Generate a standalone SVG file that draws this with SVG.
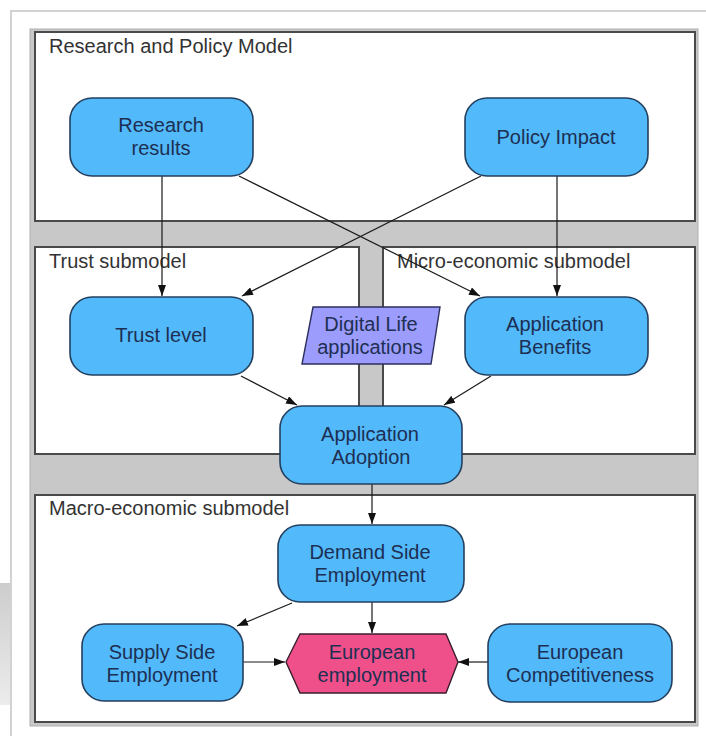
<svg xmlns="http://www.w3.org/2000/svg" width="706" height="736" viewBox="0 0 706 736">
  <defs>
    <marker id="arr" markerUnits="userSpaceOnUse" markerWidth="11" markerHeight="8" refX="11" refY="4" orient="auto">
      <path d="M0,0 L11,4 L0,8 z" fill="#111"/>
    </marker>
    <linearGradient id="shade" x1="0" y1="0" x2="0" y2="1">
      <stop offset="0" stop-color="#cdcdcd"/>
      <stop offset="1" stop-color="#ececec"/>
    </linearGradient>
    <style>
      .panel { fill: #ffffff; stroke: #4a4a4a; stroke-width: 2; }
      .ptitle { font-family: "Liberation Sans", Arial, sans-serif; font-size: 20px; fill: #333333; }
      .box { fill: #52b9fb; stroke: #24405e; stroke-width: 1.6; }
      .lbl { font-family: "Liberation Sans", Arial, sans-serif; font-size: 20px; fill: #1d2f52; text-anchor: middle; }
      .conn { stroke: #1a1a1a; stroke-width: 1.2; fill: none; marker-end: url(#arr); }
    </style>
  </defs>

  <!-- card background -->
  <rect x="0" y="0" width="706" height="736" fill="#ffffff"/>
  <rect x="0" y="583" width="30" height="122" fill="url(#shade)"/>
  <rect x="11" y="11" width="700" height="730" fill="#ffffff" stroke="#d2d2d2" stroke-width="2"/>

  <!-- gray frame -->
  <rect x="30" y="29" width="668" height="697" fill="#c8c8c8" stroke="#b0b0b0" stroke-width="1"/>

  <!-- panels -->
  <g id="panel-research-policy">
    <rect class="panel" x="35" y="32" width="660" height="189"/>
    <text class="ptitle" x="49" y="53">Research and Policy Model</text>
  </g>
  <g id="panel-trust">
    <rect class="panel" x="35" y="247" width="324" height="207"/>
    <text class="ptitle" x="49" y="268">Trust submodel</text>
  </g>
  <g id="panel-micro">
    <rect class="panel" x="383" y="247" width="312" height="207"/>
    <text class="ptitle" x="397" y="268">Micro-economic submodel</text>
  </g>
  <g id="panel-macro">
    <rect class="panel" x="35" y="495" width="660" height="227"/>
    <text class="ptitle" x="49" y="515">Macro-economic submodel</text>
  </g>

  <!-- connectors -->
  <g id="connectors">
    <path class="conn" d="M162,176 L162,296"/>
    <path class="conn" d="M239,176 L480,296"/>
    <path class="conn" d="M481,176 L242,296"/>
    <path class="conn" d="M557,176 L557,296"/>
    <path class="conn" d="M241,376 L297,405"/>
    <path class="conn" d="M491,376 L444,405"/>
    <path class="conn" d="M372,484 L372,524"/>
    <path class="conn" d="M292,603 L237,626"/>
    <path class="conn" d="M372,602 L372,633"/>
    <path class="conn" d="M242,662 L285,662"/>
    <path class="conn" d="M488,662 L458,662"/>
  </g>

  <!-- nodes -->
  <g id="research-results">
    <rect class="box" x="70" y="98" width="183" height="78" rx="22"/>
    <text class="lbl" x="161" y="132">Research</text>
    <text class="lbl" x="161" y="155">results</text>
  </g>
  <g id="policy-impact">
    <rect class="box" x="465" y="98" width="183" height="78" rx="22"/>
    <text class="lbl" x="556" y="144">Policy Impact</text>
  </g>
  <g id="trust-level">
    <rect class="box" x="70" y="297" width="183" height="78" rx="22"/>
    <text class="lbl" x="161" y="342">Trust level</text>
  </g>
  <g id="digital-life">
    <polygon points="313,307 440,307 431,364 302,364" fill="#9c9cfd" stroke="#2e2e5e" stroke-width="1.4"/>
    <text class="lbl" x="371" y="331">Digital Life</text>
    <text class="lbl" x="370" y="354">applications</text>
  </g>
  <g id="application-benefits">
    <rect class="box" x="465" y="297" width="183" height="78" rx="22"/>
    <text class="lbl" x="555" y="331">Application</text>
    <text class="lbl" x="555" y="354">Benefits</text>
  </g>
  <g id="application-adoption">
    <rect class="box" x="280" y="406" width="182" height="78" rx="22"/>
    <text class="lbl" x="370" y="441">Application</text>
    <text class="lbl" x="371" y="464">Adoption</text>
  </g>
  <g id="demand-side-employment">
    <rect class="box" x="278" y="525" width="186" height="77" rx="22"/>
    <text class="lbl" x="370" y="559">Demand Side</text>
    <text class="lbl" x="370" y="582">Employment</text>
  </g>
  <g id="supply-side-employment">
    <rect class="box" x="82" y="624" width="161" height="77" rx="22"/>
    <text class="lbl" x="162" y="659">Supply Side</text>
    <text class="lbl" x="162" y="682">Employment</text>
  </g>
  <g id="european-employment">
    <polygon points="286,662 300,634 446,634 458,662 446,693 300,693" fill="#f0508a" stroke="#3a1e2e" stroke-width="1.4"/>
    <text class="lbl" x="372" y="659">European</text>
    <text class="lbl" x="372" y="682">employment</text>
  </g>
  <g id="european-competitiveness">
    <rect class="box" x="488" y="624" width="184" height="78" rx="22"/>
    <text class="lbl" x="580" y="659">European</text>
    <text class="lbl" x="580" y="682">Competitiveness</text>
  </g>
</svg>
